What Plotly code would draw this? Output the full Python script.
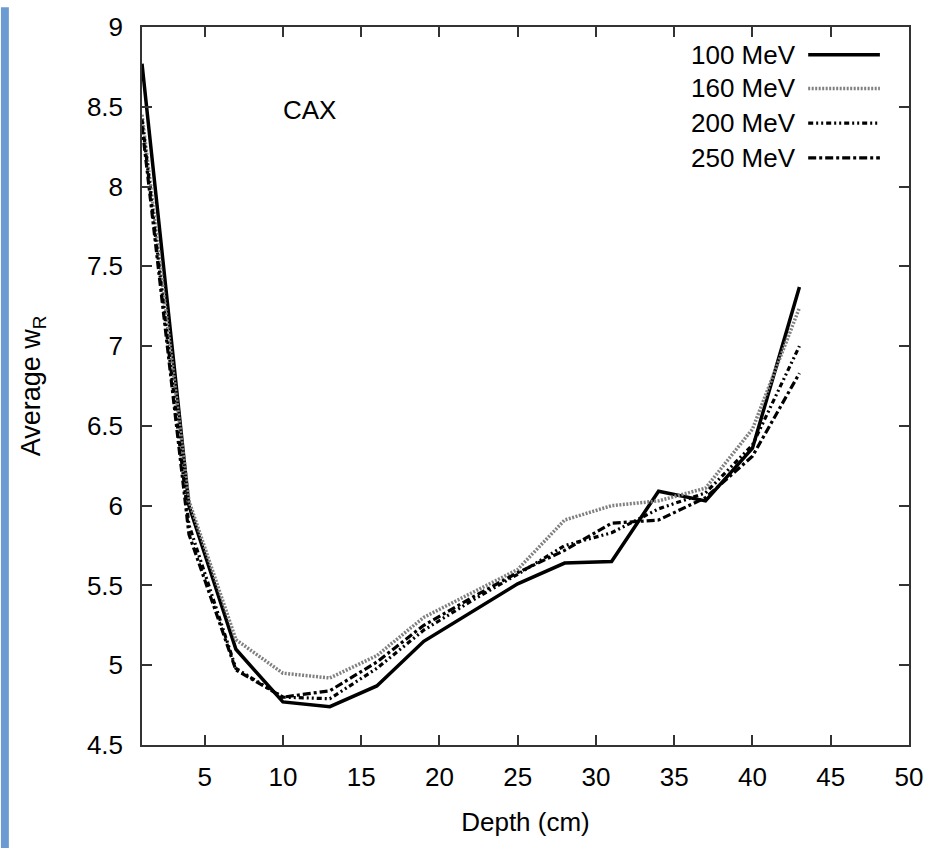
import plotly.graph_objects as go

depth = [1, 4, 7, 10, 13, 16, 19, 22, 25, 28, 31, 34, 37, 40, 43]
w_100 = [8.77, 6.00, 5.10, 4.77, 4.74, 4.87, 5.15, 5.33, 5.51, 5.64, 5.65, 6.09, 6.03, 6.36, 7.37]
w_160 = [8.45, 6.03, 5.16, 4.95, 4.92, 5.06, 5.30, 5.45, 5.60, 5.91, 6.00, 6.03, 6.11, 6.48, 7.24]
w_200 = [8.42, 5.88, 4.98, 4.80, 4.79, 4.98, 5.22, 5.40, 5.57, 5.75, 5.83, 5.98, 6.08, 6.38, 7.00]
w_250 = [8.38, 5.82, 4.97, 4.80, 4.84, 5.02, 5.25, 5.42, 5.58, 5.72, 5.89, 5.91, 6.05, 6.31, 6.83]

labels = ["100 MeV", "160 MeV", "200 MeV", "250 MeV"]
x_ticks = [5, 10, 15, 20, 25, 30, 35, 40, 45, 50]
y_ticks = [4.5, 5, 5.5, 6, 6.5, 7, 7.5, 8, 8.5, 9]

styles = [
    dict(color="black", width=3.5, dash="solid"),
    dict(color="#808080", width=3.5, dash="2px,1.5px"),
    dict(color="black", width=3.2, dash="5px,3px,2px,3px,2px,3px"),
    dict(color="black", width=3.2, dash="8px,3px,3px,3px"),
]

FONT = "Liberation Sans, Arial, sans-serif"

fig = go.Figure()
for lab, ys, st in zip(labels, [w_100, w_160, w_200, w_250], styles):
    fig.add_trace(go.Scatter(x=depth, y=ys, mode="lines", name=lab, line=st,
                             showlegend=False))

# manual legend (text right, sample line to the right, as in gnuplot)
leg_y = [8.826, 8.615, 8.398, 8.18]
annotations = []
shapes = []
for lab, yy, st in zip(labels, leg_y, styles):
    annotations.append(dict(x=42.9, y=yy, xref="x", yref="y", text=lab, showarrow=False,
                            xanchor="right", yanchor="middle",
                            font=dict(family=FONT, size=26, color="black")))
    shapes.append(dict(type="line", xref="x", yref="y", x0=43.56, x1=48.14, y0=yy, y1=yy,
                       line=st))

annotations.append(dict(x=11.7, y=8.48, xref="x", yref="y", text="CAX", showarrow=False,
                        font=dict(family=FONT, size=26, color="black")))

# blue strip at left edge of page
shapes.append(dict(type="rect", xref="paper", yref="paper",
                   x0=-142/772, x1=(8-142)/772, y0=-104/725, y1=1 + 20/725,
                   fillcolor="#6b9bd2", line=dict(width=0), layer="below"))

fig.update_layout(
    width=935, height=849,
    margin=dict(l=142, r=21, t=20, b=104),
    paper_bgcolor="white", plot_bgcolor="white",
    font=dict(family=FONT, size=26, color="black"),
    annotations=annotations, shapes=shapes,
    showlegend=False,
)
fig.update_xaxes(range=[1, 50], tickvals=x_ticks, ticks="inside", ticklen=10, tickwidth=1.5,
                 tickcolor="#333", showline=True, linecolor="#333", linewidth=1.5,
                 mirror="ticks", showgrid=False, zeroline=False,
                 tickfont=dict(size=26), ticklabelstandoff=8,
                 title=dict(text="Depth (cm)", standoff=22, font=dict(size=26)))
fig.update_yaxes(range=[4.5, 9], tickvals=y_ticks, ticks="inside", ticklen=10, tickwidth=1.5,
                 tickcolor="#333", showline=True, linecolor="#333", linewidth=1.5,
                 mirror="ticks", showgrid=False, zeroline=False,
                 tickfont=dict(size=26), ticklabelstandoff=12,
                 title=dict(text="Average w<sub>R</sub>", standoff=38, font=dict(size=27)))

fig.write_html("out.html")
